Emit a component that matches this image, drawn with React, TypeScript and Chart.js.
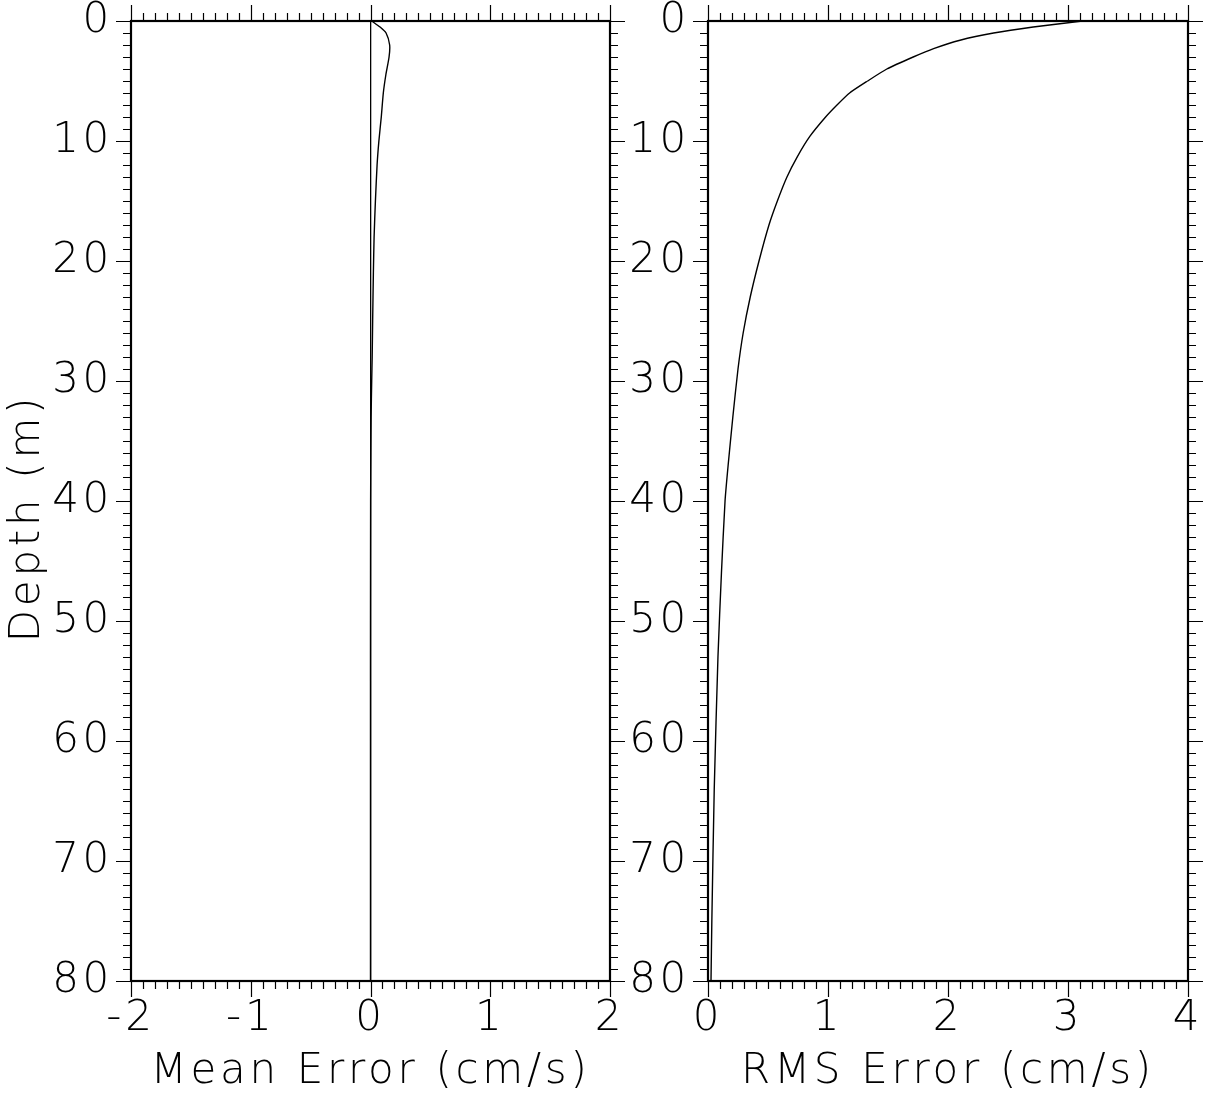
import { useEffect, useRef } from 'react';
import { Chart, registerables } from 'chart.js';

Chart.register(...registerables);

// Mean error profile (cm/s) vs depth (m)
const meanDepth = [0, 0.5, 1, 2, 3, 4.5, 6, 8, 10, 12, 15, 18, 21, 25, 28, 30, 33, 36, 40, 50, 60, 70, 80];
const meanError = [0.01, 0.08, 0.13, 0.16, 0.155, 0.128, 0.107, 0.09, 0.07, 0.055, 0.041, 0.03, 0.024, 0.018, 0.014, 0.01, 0.005, 0.003, 0.001, 0, 0, 0, 0];

// RMS error profile (cm/s) vs depth (m)
const rmsDepth = [0, 0.5, 1, 1.6, 2.3, 3, 4, 5, 6, 7, 8, 9.6, 11.3, 13, 15, 17, 20, 23, 26, 29, 33, 37, 40, 46, 53, 64, 75, 80];
const rmsError = [3.12, 2.71, 2.38, 2.1, 1.88, 1.71, 1.49, 1.33, 1.18, 1.075, 0.98, 0.85, 0.745, 0.658, 0.578, 0.508, 0.425, 0.352, 0.293, 0.25, 0.207, 0.168, 0.142, 0.112, 0.083, 0.052, 0.032, 0.025];

const depthRange = [0, 80];
const meanRange = [-2, 2];
const rmsRange = [0, 4];

const FONT = "'DejaVu Sans', sans-serif";
const FS = 42;
const FW = 200;

const isInt = (v: number) => Math.abs(v - Math.round(v)) < 1e-6;

const spacing = {
  id: 'spacing',
  beforeDraw(chart: any) {
    chart.ctx.letterSpacing = '3.7px';
  },
};

const frameTicks = {
  id: 'frameTicks',
  afterDraw(chart: any) {
    const { ctx, chartArea: a, scales } = chart;
    const x = scales.x;
    const y = scales.y;
    ctx.save();
    ctx.strokeStyle = '#000';
    ctx.lineWidth = 1.2;
    ctx.beginPath();
    for (const t of x.ticks) {
      const px = Math.round(x.getPixelForValue(t.value)) + 0.5;
      const len = isInt(t.value) ? 16 : 8;
      ctx.moveTo(px, a.top);
      ctx.lineTo(px, a.top - len);
      ctx.moveTo(px, a.bottom);
      ctx.lineTo(px, a.bottom + len);
    }
    for (const t of y.ticks) {
      const py = Math.round(y.getPixelForValue(t.value)) + 0.5;
      const len = Math.round(t.value) % 10 === 0 ? 15 : 8;
      ctx.moveTo(a.left, py);
      ctx.lineTo(a.left - len, py);
      ctx.moveTo(a.right, py);
      ctx.lineTo(a.right + len, py);
    }
    ctx.stroke();
    ctx.lineWidth = 2.2;
    ctx.strokeRect(a.left, a.top, a.right - a.left, a.bottom - a.top);
    ctx.restore();
  },
};

function makeConfig(p: {
  xs: number[];
  ys: number[];
  xRange: number[];
  xTitle: string;
  yTitle?: string;
  yWidth: number;
  padRight: number;
  zeroLine: boolean;
}): any {
  const font = { family: FONT, size: FS, weight: FW };
  return {
    type: 'scatter',
    data: {
      datasets: [
        {
          data: p.ys.map((d, i) => ({ x: p.xs[i], y: d })),
          showLine: true,
          borderColor: '#000',
          borderWidth: 1.4,
          pointRadius: 0,
          tension: 0.2,
          fill: false,
        },
      ],
    },
    options: {
      responsive: false,
      animation: false,
      devicePixelRatio: 1,
      layout: { autoPadding: false, padding: { left: 0, top: 21, right: p.padRight, bottom: 0 } },
      plugins: { legend: { display: false }, tooltip: { enabled: false } },
      scales: {
        x: {
          type: 'linear',
          position: 'bottom',
          min: p.xRange[0],
          max: p.xRange[1],
          ticks: {
            stepSize: 0.1,
            autoSkip: false,
            maxRotation: 0,
            padding: 13,
            color: '#000',
            font,
            callback: (v: number) => (isInt(v) ? String(Math.round(v)) : ''),
          },
          grid: {
            display: p.zeroLine,
            drawTicks: false,
            drawOnChartArea: true,
            lineWidth: 1.3,
            color: (c: any) => (c.tick && Math.abs(c.tick.value) < 1e-9 ? '#000' : 'rgba(0,0,0,0)'),
          },
          border: { display: false },
          title: {
            display: true,
            text: p.xTitle,
            color: '#000',
            font,
            padding: { top: 0, bottom: 0 },
          },
          afterFit: (s: any) => {
            s.height = 116;
            s.paddingLeft = 0;
            s.paddingRight = 0;
          },
        },
        y: {
          type: 'linear',
          position: 'left',
          min: depthRange[0],
          max: depthRange[1],
          reverse: true,
          ticks: {
            stepSize: 1,
            autoSkip: false,
            padding: 18,
            color: '#000',
            font,
            callback: (v: number) => (Math.round(v) % 10 === 0 ? String(Math.round(v)) : ''),
          },
          grid: { display: false, drawTicks: false },
          border: { display: false },
          title: {
            display: !!p.yTitle,
            text: p.yTitle || '',
            color: '#000',
            font,
            padding: { top: 3, bottom: 0 },
          },
          afterFit: (s: any) => {
            s.width = p.yWidth;
            s.paddingTop = 0;
            s.paddingBottom = 0;
          },
        },
      },
    },
    plugins: [spacing, frameTicks],
  };
}

export default function App() {
  const leftRef = useRef<HTMLCanvasElement>(null);
  const rightRef = useRef<HTMLCanvasElement>(null);

  useEffect(() => {
    const c1 = new Chart(
      leftRef.current!,
      makeConfig({
        xs: meanError,
        ys: meanDepth,
        xRange: meanRange,
        xTitle: 'Mean Error (cm/s)',
        yTitle: 'Depth (m)  ',
        yWidth: 131,
        padRight: 30,
        zeroLine: true,
      })
    );
    const c2 = new Chart(
      rightRef.current!,
      makeConfig({
        xs: rmsError,
        ys: rmsDepth,
        xRange: rmsRange,
        xTitle: 'RMS Error (cm/s)',
        yWidth: 88,
        padRight: 18,
        zeroLine: false,
      })
    );
    return () => {
      c1.destroy();
      c2.destroy();
    };
  }, []);

  return (
    <div style={{ position: 'absolute', left: 0, top: 0, width: 1206, height: 1097, background: '#fff' }}>
      <canvas ref={leftRef} width={640} height={1097} style={{ position: 'absolute', left: 0, top: 0 }} />
      <canvas ref={rightRef} width={586} height={1097} style={{ position: 'absolute', left: 620, top: 0 }} />
    </div>
  );
}
